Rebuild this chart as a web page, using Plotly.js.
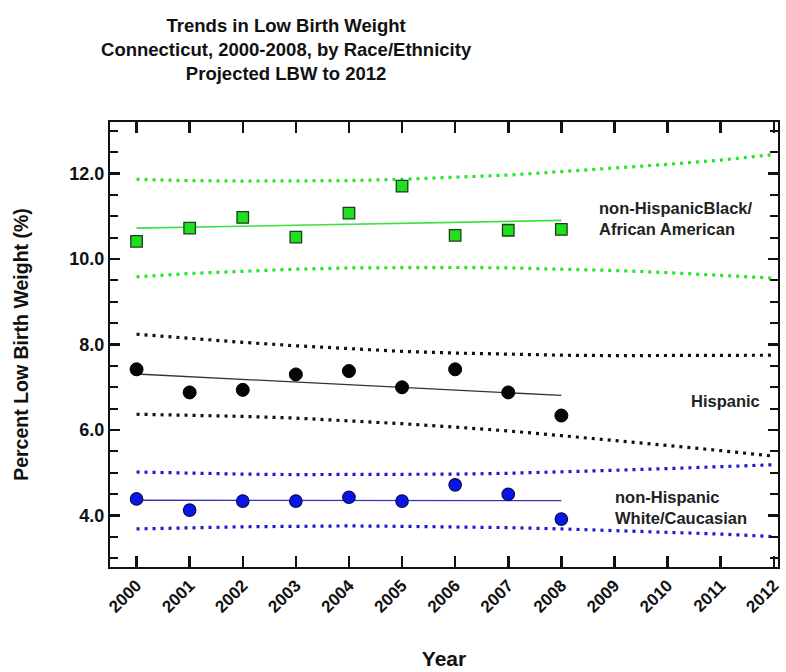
<!DOCTYPE html>
<html>
<head>
<meta charset="utf-8">
<script src="https://cdn.plot.ly/plotly-3.0.1.min.js"></script>
<style>html,body{margin:0;padding:0;background:#fff;}#chart{width:786px;height:672px;}</style>
</head>
<body>
<div id="chart"></div>
<script>
// Observed years and values (percent low birth weight)
const years = [2000, 2001, 2002, 2003, 2004, 2005, 2006, 2007, 2008];
const projYears = [2000, 2001, 2002, 2003, 2004, 2005, 2006, 2007, 2008, 2009, 2010, 2011, 2012];
const trendYears = [2000, 2008];
const tickYears = [2000, 2001, 2002, 2003, 2004, 2005, 2006, 2007, 2008, 2009, 2010, 2011, 2012];
const tickYearLabels = ["2000", "2001", "2002", "2003", "2004", "2005", "2006", "2007", "2008", "2009", "2010", "2011", "2012"];

// non-Hispanic Black / African American
const blackObs = [10.41, 10.72, 10.97, 10.51, 11.07, 11.70, 10.55, 10.67, 10.69];
const blackTrend = [10.72, 10.90];
const blackUpper = [11.86, 11.83, 11.82, 11.82, 11.83, 11.86, 11.91, 11.96, 12.04, 12.12, 12.21, 12.31, 12.44];
const blackLower = [9.58, 9.66, 9.71, 9.76, 9.79, 9.80, 9.80, 9.79, 9.76, 9.73, 9.68, 9.62, 9.55];

// Hispanic
const hispObs = [7.42, 6.88, 6.94, 7.30, 7.38, 7.00, 7.42, 6.88, 6.34];
const hispTrend = [7.31, 6.81];
const hispUpper = [8.24, 8.14, 8.05, 7.97, 7.90, 7.84, 7.80, 7.77, 7.75, 7.74, 7.74, 7.74, 7.75];
const hispLower = [6.37, 6.35, 6.32, 6.28, 6.22, 6.15, 6.07, 5.98, 5.87, 5.76, 5.64, 5.52, 5.39];

// non-Hispanic White / Caucasian
const whiteObs = [4.39, 4.13, 4.34, 4.34, 4.43, 4.34, 4.72, 4.50, 3.92];
const whiteTrend = [4.36, 4.35];
const whiteUpper = [5.02, 4.99, 4.97, 4.96, 4.96, 4.96, 4.97, 4.99, 5.02, 5.06, 5.10, 5.15, 5.19];
const whiteLower = [3.69, 3.72, 3.74, 3.75, 3.76, 3.75, 3.74, 3.72, 3.69, 3.65, 3.61, 3.57, 3.51];

const yTicks = [4, 6, 8, 10, 12];
const yTickLabels = ["4.0", "6.0", "8.0", "10.0", "12.0"];

const FONT = '"Liberation Sans", Arial, sans-serif';
const DOT = '3px,5px';
const bold = s => '<b>' + s + '</b>';

function band(y, color) {
  return {x: projYears, y: y, type: 'scatter', mode: 'lines', showlegend: false, hoverinfo: 'skip',
          line: {color: color, width: 3.2, dash: DOT}};
}
function trend(y, color, w) {
  return {x: trendYears, y: y, type: 'scatter', mode: 'lines', showlegend: false,
          line: {color: color, width: w}};
}

const traces = [
  band(blackUpper, '#22e622'), band(blackLower, '#22e622'),
  band(hispUpper, '#111111'), band(hispLower, '#111111'),
  band(whiteUpper, '#1a1ad0'), band(whiteLower, '#1a1ad0'),
  trend(blackTrend, '#3fe03f', 1.6),
  trend(hispTrend, '#333333', 1.3),
  trend(whiteTrend, '#3535b5', 1.3),
  {x: years, y: blackObs, type: 'scatter', mode: 'markers', name: 'non-Hispanic Black/African American', showlegend: false,
   marker: {symbol: 'square', size: 11.5, color: '#1ee01e', line: {color: '#1d3d1d', width: 1.3}}},
  {x: years, y: hispObs, type: 'scatter', mode: 'markers', name: 'Hispanic', showlegend: false,
   marker: {symbol: 'circle', size: 13, color: '#050505', line: {color: '#000', width: 1}}},
  {x: years, y: whiteObs, type: 'scatter', mode: 'markers', name: 'non-Hispanic White/Caucasian', showlegend: false,
   marker: {symbol: 'circle', size: 12.5, color: '#0a16e8', line: {color: '#0a0a55', width: 1.2}}}
];

const layout = {
  width: 786, height: 672,
  paper_bgcolor: '#ffffff', plot_bgcolor: '#ffffff',
  margin: {l: 110, r: 8, t: 122, b: 105},
  font: {family: FONT, color: '#111'},
  title: {
    text: bold('Trends in Low Birth Weight<br>Connecticut, 2000-2008, by Race/Ethnicity<br>Projected LBW to 2012'),
    font: {family: FONT, size: 18.5, color: '#111'},
    xref: 'container', yref: 'container', x: 0.364, xanchor: 'center', y: 0.952, yanchor: 'middle'
  },
  xaxis: {
    range: [1999.5, 2012.08],
    tickvals: tickYears, ticktext: tickYearLabels.map(bold), tickangle: -45,
    ticks: 'inside', ticklen: 11, tickwidth: 2.5, tickcolor: '#111',
    tickfont: {family: FONT, size: 17, color: '#111'},
    showline: true, linecolor: '#111', linewidth: 2, mirror: 'ticks',
    showgrid: false, zeroline: false,
    title: {text: bold('Year'), font: {family: FONT, size: 21, color: '#111'}, standoff: 36}
  },
  yaxis: {
    range: [2.8, 13.2],
    tickvals: yTicks, ticktext: yTickLabels.map(bold),
    ticks: 'inside', ticklen: 10, tickwidth: 2.5, tickcolor: '#111',
    minor: {dtick: 0.5, tick0: 0, ticks: 'inside', ticklen: 8, tickwidth: 2, tickcolor: '#111', showgrid: false},
    tickfont: {family: FONT, size: 18, color: '#111'},
    showline: true, linecolor: '#111', linewidth: 2, mirror: 'ticks',
    showgrid: false, zeroline: false,
    title: {text: bold('Percent Low Birth Weight (%)'), font: {family: FONT, size: 19.5, color: '#111'}, standoff: 36}
  },
  annotations: [
    {x: 2008.67, y: 10.95, xref: 'x', yref: 'y', xanchor: 'left', yanchor: 'middle', align: 'left', showarrow: false,
     text: bold('non-HispanicBlack/<br>African American'), font: {family: FONT, size: 16.5, color: '#222'}},
    {x: 2011.1, y: 6.69, xref: 'x', yref: 'y', xanchor: 'center', yanchor: 'middle', align: 'center', showarrow: false,
     text: bold('Hispanic'), font: {family: FONT, size: 16.5, color: '#222'}},
    {x: 2008.97, y: 4.19, xref: 'x', yref: 'y', xanchor: 'left', yanchor: 'middle', align: 'left', showarrow: false,
     text: bold('non-Hispanic<br>White/Caucasian'), font: {family: FONT, size: 16.5, color: '#222'}}
  ]
};

Plotly.newPlot('chart', traces, layout, {displayModeBar: false, staticPlot: true});
</script>
</body>
</html>
